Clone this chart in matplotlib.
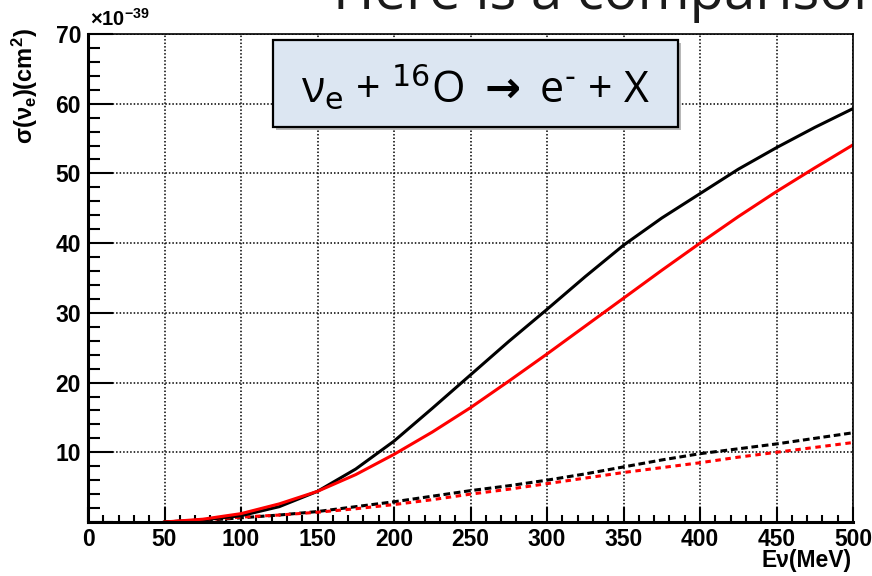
import numpy as np
import matplotlib
matplotlib.use('Agg')
import matplotlib.pyplot as plt
from matplotlib.patches import Rectangle
from matplotlib.ticker import MultipleLocator, FuncFormatter

# neutrino energy (MeV) and cross sections (1e-39 cm^2)
energy = [50, 75, 100, 125, 150, 175, 200, 225, 250, 275, 300,
          325, 350, 375, 400, 425, 450, 475, 500]
sigma_black = [0.0, 0.3, 0.9, 2.2, 4.4, 7.6, 11.6, 16.3, 21.1, 25.9, 30.5,
               35.2, 39.7, 43.6, 47.1, 50.6, 53.7, 56.6, 59.3]
sigma_red = [0.0, 0.4, 1.2, 2.6, 4.4, 6.8, 9.7, 12.9, 16.4, 20.2, 24.1,
             28.1, 32.1, 36.1, 40.0, 43.8, 47.4, 50.8, 54.1]
sigma_black_dash = [0.0, 0.2, 0.6, 1.0, 1.5, 2.2, 2.9, 3.7, 4.5, 5.2, 6.0,
                    6.9, 7.9, 8.9, 9.8, 10.5, 11.2, 12.0, 12.8]
sigma_red_dash = [0.0, 0.3, 0.7, 1.0, 1.4, 1.9, 2.5, 3.2, 4.0, 4.7, 5.5,
                  6.3, 7.1, 7.8, 8.5, 9.3, 10.0, 10.7, 11.4]

title = 'Here is a comparison'
box_label = r'ν$_{\mathrm{e}}$ + $^{16}$O $\boldsymbol{\rightarrow}$ e$^{\text{-}}$ + X'

plt.rcParams['font.family'] = 'Liberation Sans'
plt.rcParams['mathtext.fontset'] = 'custom'
plt.rcParams['mathtext.rm'] = 'Liberation Sans:bold'
plt.rcParams['mathtext.it'] = 'Liberation Sans:bold'
plt.rcParams['mathtext.bf'] = 'Liberation Sans:bold'
plt.rcParams['mathtext.sf'] = 'Liberation Sans:bold'

W, H = 872, 576


def px( x, y ):
    # pixel position (from top-left) -> figure fraction
    return x / W, 1 - y / H


fig = plt.figure( figsize = ( W / 100, H / 100 ), dpi = 100 )
ax = fig.add_axes( [ 88 / W, 1 - 522 / H, 765 / W, 488 / H ] )

ax.plot( energy, sigma_black_dash, color = 'k', lw = 2.2, linestyle = ( 0, ( 2.2, 1.2 ) ) )
ax.plot( energy, sigma_red_dash, color = 'r', lw = 2.2, linestyle = ( 0, ( 1.8, 1.5 ) ) )
ax.plot( energy, sigma_black, color = 'k', lw = 2.2 )
ax.plot( energy, sigma_red, color = 'r', lw = 2.2 )

ax.set_xlim( 0, 500 )
ax.set_ylim( 0, 70 )
ax.xaxis.set_major_locator( MultipleLocator( 50 ) )
ax.xaxis.set_minor_locator( MultipleLocator( 10 ) )
ax.yaxis.set_major_locator( MultipleLocator( 10 ) )
ax.yaxis.set_minor_locator( MultipleLocator( 2 ) )
ax.yaxis.set_major_formatter( FuncFormatter( lambda v, p: '' if v == 0 else f'{v:.0f}' ) )

ax.tick_params( which = 'both', direction = 'in', top = False, right = False, labelsize = 16.5 )
ax.tick_params( axis = 'x', which = 'major', length = 10.8, width = 1.5, pad = 4 )
ax.tick_params( axis = 'x', which = 'minor', length = 5, width = 1.5 )
ax.tick_params( axis = 'y', which = 'major', length = 18, width = 1.5, pad = 5 )
ax.tick_params( axis = 'y', which = 'minor', length = 8.6, width = 1.5 )
for lab in ax.get_xticklabels() + ax.get_yticklabels():
    lab.set_fontweight( 'bold' )

ax.grid( True, which = 'major', color = 'k', linestyle = ( 0, ( 1, 1.3 ) ), linewidth = 1.1 )
for side in [ 'left', 'bottom' ]:
    ax.spines[side].set_linewidth( 2.2 )
for side in [ 'top', 'right' ]:
    ax.spines[side].set_linewidth( 1.2 )

# axis titles in ROOT style
fig.text( *px( 25, 27 ), r'$\sigma(\nu_{e})(cm^{2})$', rotation = 90, ha = 'center', va = 'top', fontsize = 17 )
fig.text( *px( 90, 26 ), r'$\times10^{-39}$', ha = 'left', va = 'baseline', fontsize = 14.5 )
fig.text( *px( 852, 567 ), 'Eν(MeV)', ha = 'right', va = 'baseline', fontsize = 16.5, fontweight = 'bold' )

# slide title, cut by the top edge
fig.text( *px( 333, 9 ), title, ha = 'left', va = 'baseline', fontsize = 40.5,
          family = 'Open Sans', color = '#1a1a1a' )

# reaction box
fig.add_artist( Rectangle( px( 276, 130 ), 405 / W, 87 / H, transform = fig.transFigure,
                           fc = '#b8b8b8', ec = 'none' ) )
fig.add_artist( Rectangle( px( 273, 127 ), 405 / W, 87 / H, transform = fig.transFigure,
                           fc = '#dce6f2', ec = 'k', lw = 1.6 ) )
fig.text( *px( 475.5, 101.7 ), box_label, ha = 'center', va = 'baseline', fontsize = 31,
          family = 'Open Sans', math_fontfamily = 'dejavusans' )

fig.savefig( 'out.png', dpi = 100 )
